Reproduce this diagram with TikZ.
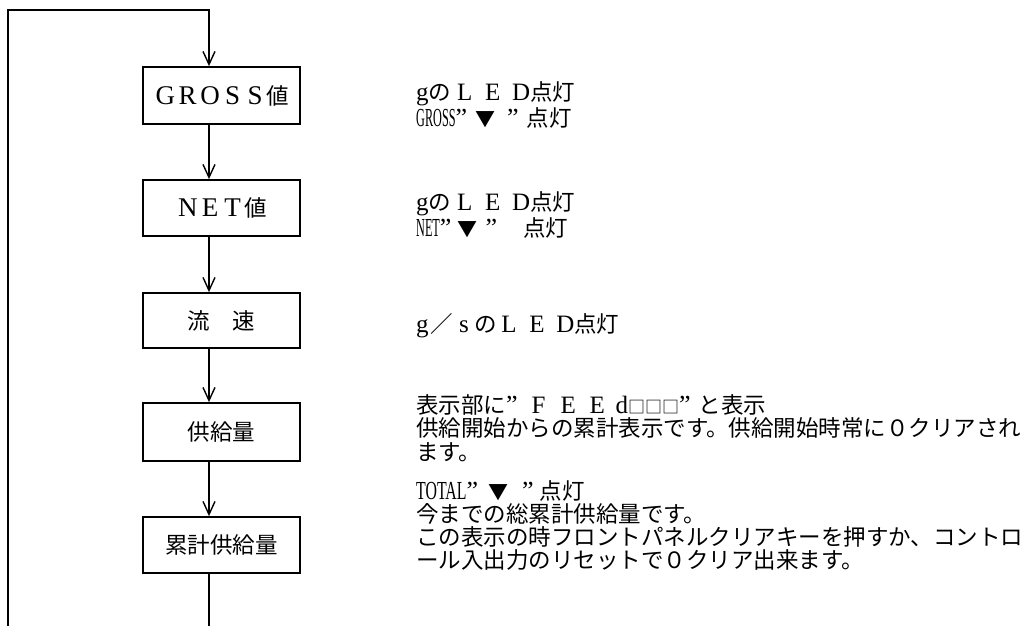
\documentclass[tikz,border=0pt]{standalone}
\usepackage{fontspec}
\usepackage{graphicx}
\setmainfont{Liberation Serif}
\newfontfamily\jp{Noto Sans CJK JP}
\newfontfamily\lsf{Liberation Serif}
\usetikzlibrary{arrows.meta}
\newcommand\fw[1]{\makebox[1em]{\lsf\fontsize{27}{27}\selectfont #1}}
\newcommand\ls[1]{{\lsf\fontsize{25}{25}\selectfont #1}}
\newcommand\cnd[2]{\scalebox{#1}[1]{\lsf\fontsize{26}{26}\selectfont #2}}
\newcommand\q{{\lsf\fontsize{26}{26}\selectfont ”}}
\newcommand\tri{{\fontsize{20}{20}\selectfont ▼}}
\newcommand\sq{{\fontsize{17}{17}\selectfont □□□}}
\begin{document}
\begin{tikzpicture}[x=1pt,y=-1pt,
  box/.style={draw, line width=1.8pt, minimum width=157pt, minimum height=56pt,
    inner sep=0pt, font=\jp\fontsize{22.5}{24}\selectfont},
  lbl/.style={anchor=base west, inner sep=0pt, text height=17pt, text depth=4pt,
    font=\jp\fontsize{22.5}{24}\selectfont},
  flow/.style={line width=1.4pt, -{Straight Barb[length=13pt,width=12pt,line width=1.4pt]}},
  loop/.style={line width=1.3pt}]
\useasboundingbox (0,0) rectangle (1032,626);
\fill[white] (0,0) rectangle (1032,626);
% boxes
\node[box, minimum height=57pt] (gross) at (221.5,95.5) {\fw{G}\fw{R}\fw{O}\fw{S}\fw{S}値};
\node[box] (net) at (221.5,208) {\fw{N}\fw{E}\fw{T}値};
\node[box, minimum height=55pt] (flowr) at (221.5,320.5) {流　速\hspace{21pt}};
\node[box, minimum height=58pt] (sup) at (221.5,432) {供給量\hspace{21pt}};
\node[box] (tot) at (221.5,545) {累計供給量};
% coordinates
\coordinate (sp) at (209,0);
\coordinate (tl) at (8,10);
\coordinate (tr) at (209,10);
\coordinate (bl) at (8,626);
\coordinate (br) at (209,626);
% connectors
\draw[flow] (bl) -- (tl) -- (tr) -- (gross.north -| sp);
\draw[flow] (gross.south -| sp) -- (net.north -| sp);
\draw[flow] (net.south -| sp) -- (flowr.north -| sp);
\draw[flow] (flowr.south -| sp) -- (sup.north -| sp);
\draw[flow] (sup.south -| sp) -- (tot.north -| sp);
\draw[loop] (tot.south -| sp) -- (br);
% labels
\node[lbl] (g1) at (416,100) {\ls{g}の\hspace{6pt}\makebox[28pt][l]{\ls{L}}\makebox[27pt][l]{\ls{E}}\ls{D}点灯};
\node[lbl] (g2) at (416,126) {\cnd{0.47}{GROSS}\q\hspace{8pt}\tri\hspace{12pt}\q\hspace{8pt}点灯};
\node[lbl] (n1) at (416,210) {\ls{g}の\hspace{6pt}\makebox[28pt][l]{\ls{L}}\makebox[27pt][l]{\ls{E}}\ls{D}点灯};
\node[lbl] (n2) at (416,236) {\cnd{0.47}{NET}\q\hspace{6pt}\tri\hspace{8pt}\q\hspace{26pt}点灯};
\node[lbl] (f1) at (416,332) {\ls{g}\hspace{2pt}／\hspace{6pt}\ls{s}\hspace{6pt}の\hspace{4pt}\makebox[28pt][l]{\ls{L}}\makebox[27pt][l]{\ls{E}}\ls{D}点灯};
\node[lbl] (s1) at (416,413) {表示部に\q\hspace{14pt}\makebox[29pt][l]{\ls{F}}\makebox[29pt][l]{\ls{E}}\makebox[26pt][l]{\ls{E}}\ls{d}\sq\q\hspace{8pt}と表示};
\node[lbl] (s2) at (416,436) {供給開始からの累計表示です。供給開始時常に０クリアされ};
\node[lbl] (s3) at (416,460) {ます。};
\node[lbl] (t1) at (416,499) {\cnd{0.61}{TOTAL}\q\hspace{10pt}\tri\hspace{14pt}\q\hspace{6pt}点灯};
\node[lbl] (t2) at (416,522) {今までの総累計供給量です。};
\node[lbl] (t3) at (416,545) {この表示の時フロントパネルクリアキーを押すか、コントロ};
\node[lbl] (t4) at (416,568) {ール入出力のリセットで０クリア出来ます。};
\end{tikzpicture}
\end{document}
